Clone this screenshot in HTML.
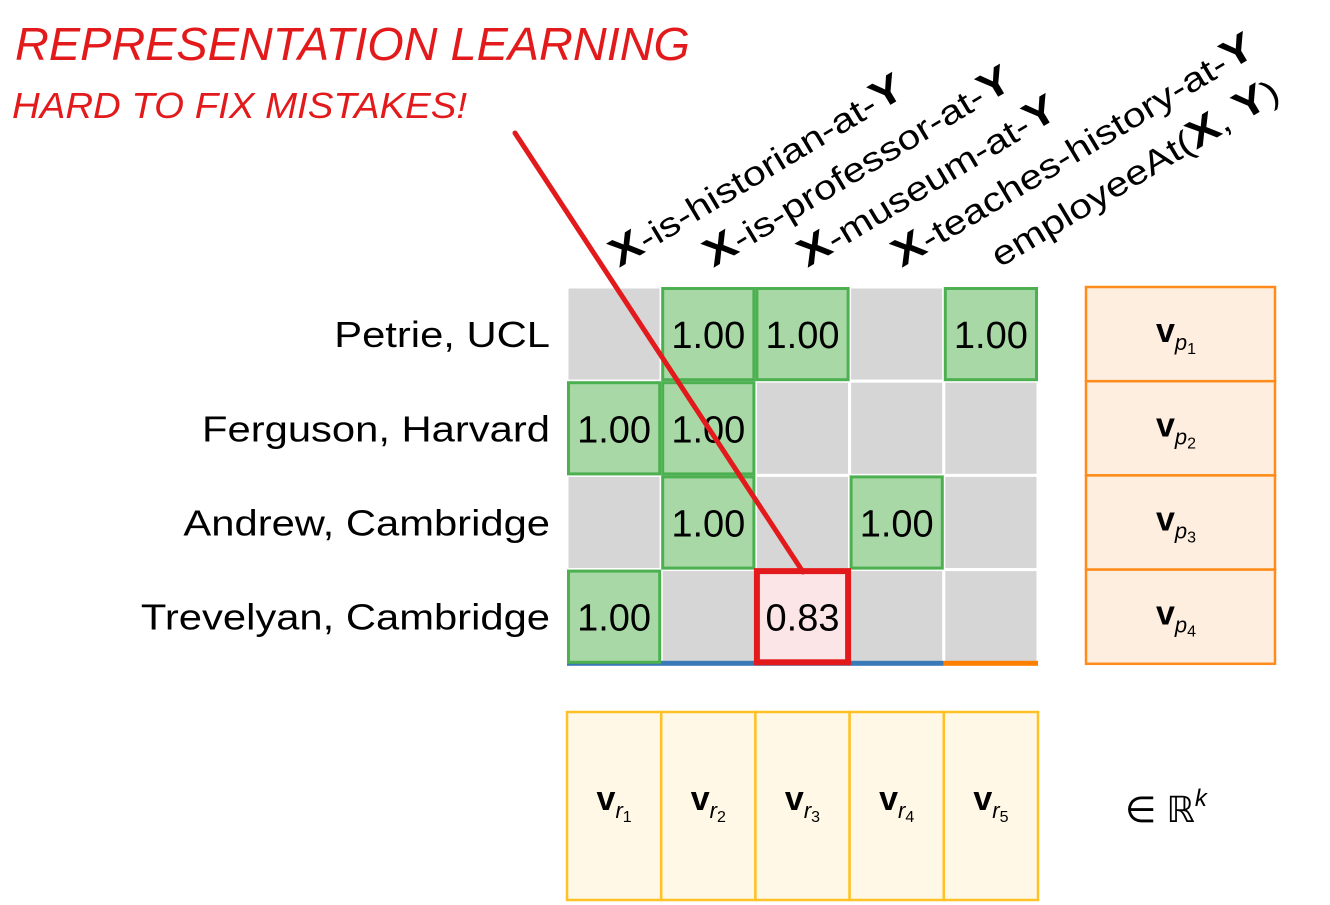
<!DOCTYPE html>
<html><head><meta charset="utf-8"><style>
html,body{margin:0;padding:0;background:#fff}
svg{display:block;font-family:"Liberation Sans","DejaVu Sans",sans-serif}
</style></head><body>
<svg id="chart" width="1330" height="905" viewBox="0 0 1330 905">
<text x="15" y="60" font-size="46" fill="#e31a1c" font-style="italic" textLength="675" lengthAdjust="spacingAndGlyphs">REPRESENTATION LEARNING</text>
<text x="12" y="118" font-size="36" fill="#e31a1c" font-style="italic" textLength="455" lengthAdjust="spacingAndGlyphs">HARD TO FIX MISTAKES!</text>
<g id="grid"></g>
</svg>
<script>
const rows = ["Petrie, UCL","Ferguson, Harvard","Andrew, Cambridge","Trevelyan, Cambridge"];
const cols = ["-is-historian-at-","-is-professor-at-","-museum-at-","-teaches-history-at-","employeeAt("];
const values = [
  [null,1.00,1.00,null,1.00],
  [1.00,1.00,null,null,null],
  [null,1.00,null,1.00,null],
  [1.00,null,0.83,null,null]
];
const highlighted = [[3,2]];
const NS="http://www.w3.org/2000/svg";
const g=document.getElementById('grid');
const x0=567,y0=287,cw=94.2,rh=94.2;
const cx=i=>x0+i*cw, ry=j=>y0+j*rh;
function mk(t,a,p){const e=document.createElementNS(NS,t);for(const k in a)e.setAttribute(k,a[k]);(p||g).appendChild(e);return e;}
rows.forEach((r,j)=>cols.forEach((c,i)=>{
  const e=mk('rect',{x:cx(i),y:ry(j),width:cw,height:rh,fill:'#d6d6d6',stroke:'#fff','stroke-width':3});
  
  
}));
rows.forEach((r,j)=>{
  const t=mk('text',{'text-anchor':'end','font-size':36,fill:'#000',transform:`translate(550,${ry(j)+rh/2+13}) scale(1.16,1)`});
  t.textContent=r;
  
  
});
const bl=mk('rect',{x:x0,y:ry(4)-3,width:cw*4,height:5,fill:'#3a7ab8'});


const ol=mk('rect',{x:cx(4),y:ry(4)-3,width:cw,height:5,fill:'#ff8000'});


values.forEach((row,j)=>row.forEach((v,i)=>{
  if(v===null)return;
  const hl=highlighted.some(h=>h[0]===j&&h[1]===i);
  const r=mk('rect',{x:cx(i)+1.5,y:ry(j)+1.5,width:cw-3,height:rh-3,fill:hl?'#fbe5e6':'#a8d8a5',stroke:hl?'#e31a1c':'#4caf50','stroke-width':hl?6:3});
  
  
  const t=mk('text',{x:cx(i)+cw/2,y:ry(j)+rh/2+14,'text-anchor':'middle','font-size':38,fill:'#000'});
  t.textContent=v.toFixed(2);
  
  
}));
cols.forEach((c,i)=>{
  const t=mk('text',{'font-size':34,fill:'#000',transform:`translate(${cx(i)+52+(i==4?4:0)},${268}) rotate(-31) scale(1.2,1)`});
  if(i<4){
    const a=mk('tspan',{'font-weight':'bold','font-size':40},t);a.textContent='X';
    const b=mk('tspan',{},t);b.textContent=c;
    const d=mk('tspan',{'font-weight':'bold','font-size':40},t);d.textContent='Y';
  } else {
    const b=mk('tspan',{},t);b.textContent=c;
    const a=mk('tspan',{'font-weight':'bold','font-size':40},t);a.textContent='X';
    const b2=mk('tspan',{},t);b2.textContent=', ';
    const d=mk('tspan',{'font-weight':'bold','font-size':40},t);d.textContent='Y';
    const e=mk('tspan',{},t);e.textContent=')';
  }
  
  
});
rows.forEach((r,j)=>{
  const e=mk('rect',{x:1086,y:ry(j),width:189,height:rh,fill:'#fdeee0',stroke:'#ff8c1a','stroke-width':2.5});
  
  
  const t=mk('text',{x:1176,y:ry(j)+rh/2+8,'text-anchor':'middle','font-size':34});
  const a=mk('tspan',{'font-weight':'bold'},t);a.textContent='v';
  const b=mk('tspan',{'font-size':22,'font-style':'italic',dy:8},t);b.textContent='p';
  const c=mk('tspan',{'font-size':16,dy:4},t);c.textContent=String(j+1);
  
  
});
cols.forEach((c,i)=>{
  const e=mk('rect',{x:cx(i),y:712,width:cw,height:188,fill:'#fff8e6',stroke:'#ffc125','stroke-width':2.5});
  
  
  const t=mk('text',{x:cx(i)+cw/2,y:810,'text-anchor':'middle','font-size':34});
  const a=mk('tspan',{'font-weight':'bold'},t);a.textContent='v';
  const b=mk('tspan',{'font-size':22,'font-style':'italic',dy:8},t);b.textContent='r';
  const d=mk('tspan',{'font-size':16,dy:4},t);d.textContent=String(i+1);
  
  
});
const rk=mk('text',{x:1125,y:822,'font-size':36});
rk.textContent='∈ ℝ';


const rk2=mk('tspan',{'font-size':24,'font-style':'italic',dy:-16},rk);rk2.textContent='k';
const ln=mk('line',{x1:515,y1:133,x2:803,y2:572,stroke:'#e31a1c','stroke-width':5,'stroke-linecap':'round'});


</script>
</body></html>
